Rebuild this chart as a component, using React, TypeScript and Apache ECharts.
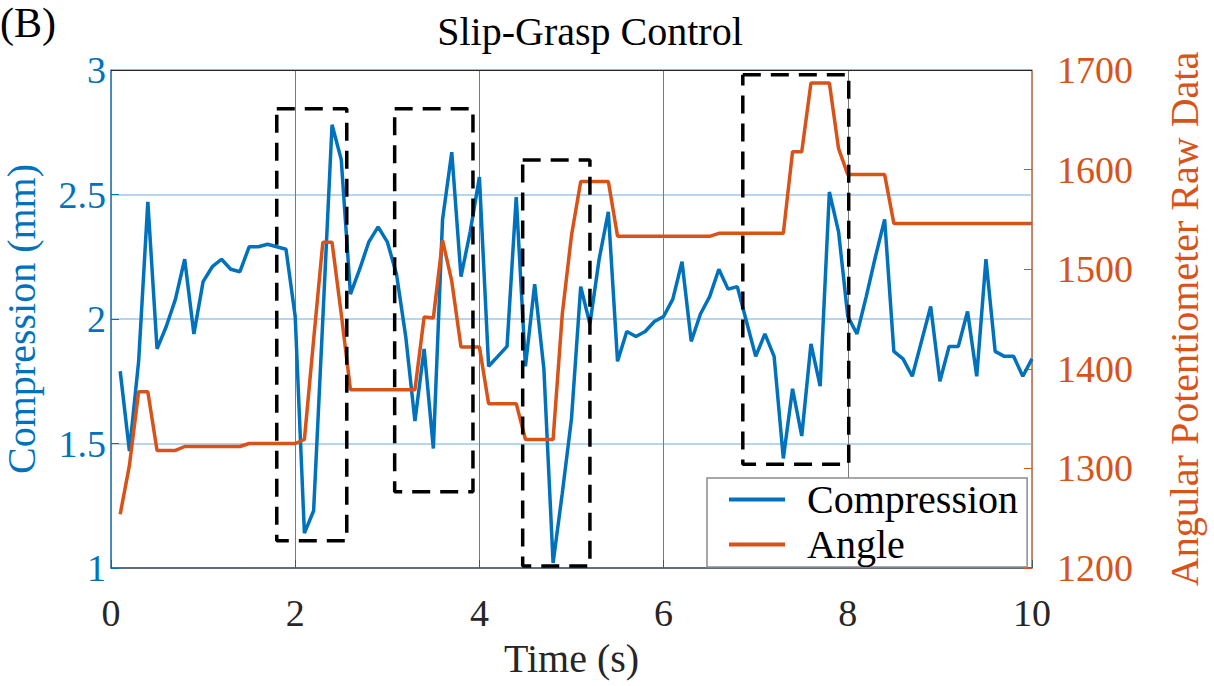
import { useEffect, useRef } from "react";
import * as echarts from "echarts";

// Sample times (s)
const times = [
  0.1, 0.2, 0.3, 0.4, 0.5, 0.6, 0.7, 0.8, 0.9, 1.0,
  1.1, 1.2, 1.3, 1.4, 1.5, 1.6, 1.7, 1.8, 1.9, 2.0,
  2.1, 2.2, 2.3, 2.4, 2.5, 2.6, 2.7, 2.8, 2.9, 3.0,
  3.1, 3.2, 3.3, 3.4, 3.5, 3.6, 3.7, 3.8, 3.9, 4.0,
  4.1, 4.2, 4.3, 4.4, 4.5, 4.6, 4.7, 4.8, 4.9, 5.0,
  5.1, 5.2, 5.3, 5.4, 5.5, 5.6, 5.7, 5.8, 5.9, 6.0,
  6.1, 6.2, 6.3, 6.4, 6.5, 6.6, 6.7, 6.8, 6.9, 7.0,
  7.1, 7.2, 7.3, 7.4, 7.5, 7.6, 7.7, 7.8, 7.9, 8.0,
  8.1, 8.2, 8.3, 8.4, 8.5, 8.6, 8.7, 8.8, 8.9, 9.0,
  9.1, 9.2, 9.3, 9.4, 9.5, 9.6, 9.7, 9.8, 9.9, 10.0,
];

// Sensor compression (mm)
const compression = [
  1.79, 1.47, 1.83, 2.47, 1.88, 1.97, 2.08, 2.24, 1.94, 2.15,
  2.21, 2.24, 2.2, 2.19, 2.29, 2.29, 2.3, 2.29, 2.28, 2.01,
  1.14, 1.23, 2.0, 2.78, 2.64, 2.1, 2.2, 2.31, 2.37, 2.31,
  2.18, 1.93, 1.59, 1.88, 1.48, 2.4, 2.67, 2.17, 2.35, 2.57,
  1.81, 1.85, 1.89, 2.49, 1.81, 2.14, 1.8, 1.02, 1.3, 1.6,
  2.13, 1.98, 2.24, 2.43, 1.83, 1.95, 1.93, 1.95, 1.99, 2.01,
  2.08, 2.23, 1.91, 2.02, 2.09, 2.2, 2.12, 2.13, 1.99, 1.85,
  1.94, 1.85, 1.44, 1.72, 1.53, 1.9, 1.73, 2.51, 2.35, 2.01,
  1.94, 2.09, 2.25, 2.4, 1.87, 1.84, 1.77, 1.91, 2.05, 1.75,
  1.89, 1.89, 2.03, 1.77, 2.24, 1.87, 1.85, 1.85, 1.77, 1.84,
];

// Angular potentiometer raw reading
const angle = [
  1254, 1303, 1377, 1377, 1318, 1318, 1318, 1322, 1322, 1322,
  1322, 1322, 1322, 1322, 1325, 1325, 1325, 1325, 1325, 1325,
  1329, 1429, 1527, 1527, 1455, 1379, 1379, 1379, 1379, 1379,
  1379, 1379, 1379, 1452, 1451, 1529, 1488, 1422, 1422, 1422,
  1365, 1365, 1365, 1365, 1329, 1329, 1329, 1329, 1455, 1534,
  1588, 1588, 1588, 1588, 1533, 1533, 1533, 1533, 1533, 1533,
  1533, 1533, 1533, 1533, 1533, 1536, 1536, 1536, 1536, 1536,
  1536, 1536, 1536, 1618, 1618, 1687, 1687, 1687, 1621, 1595,
  1595, 1595, 1595, 1595, 1546, 1546, 1546, 1546, 1546, 1546,
  1546, 1546, 1546, 1546, 1546, 1546, 1546, 1546, 1546, 1546,
];

// Slip events: [start (s), end (s), upper (mm), lower (mm)]
const slipWindows = [
  [1.8, 2.56, 2.844, 1.109],
  [3.08, 3.93, 2.844, 1.306],
  [4.47, 5.2, 2.639, 1.008],
  [6.86, 8.01, 2.981, 1.417],
];

const xRange = [0, 10];
const leftRange = [1, 3];
const rightRange = [1200, 1700];

const BLUE = "#0072BD";
const ORANGE = "#D95319";
// quoted family name so the multi-word font resolves in the SVG text
const SERIF = "'Liberation Serif'";

export default function App() {
  const ref = useRef<HTMLDivElement>(null);

  useEffect(() => {
    if (!ref.current) return;
    const chart = echarts.init(ref.current, undefined, { renderer: "svg" });

    const boxSeries = slipWindows.map(([t0, t1, top, bottom], i) => ({
      name: `slip-${i}`,
      type: "line",
      silent: true,
      showSymbol: false,
      symbol: "none",
      z: 5,
      lineStyle: { color: "#000", width: 3.5, type: [18, 10] },
      data: [[t0, top], [t1, top], [t1, bottom], [t0, bottom], [t0, top]],
    }));

    chart.setOption({
      animation: false,
      backgroundColor: "#fff",
      textStyle: { fontFamily: SERIF },
      title: {
        text: "Slip-Grasp Control",
        left: 585,
        top: 6,
        textAlign: "center",
        textStyle: { fontSize: 40, fontWeight: "normal", color: "#000", fontFamily: SERIF },
      },
      graphic: [
        { type: "text", left: 0, top: 2, style: { text: "(B)", fontSize: 42, fontFamily: SERIF, fill: "#000" } },
      ],
      legend: {
        data: ["Compression", "Angle"],
        orient: "vertical",
        left: 707,
        top: 478,
        backgroundColor: "#fff",
        borderColor: "#8c8c8c",
        borderWidth: 1.5,
        padding: [0, 9, 1, 22],
        itemWidth: 56,
        itemHeight: 4,
        itemGap: 2,
        icon: "rect",
        textStyle: { fontSize: 40, lineHeight: 43, fontFamily: SERIF, color: "#000", padding: [0, 0, 0, 17] },
      },
      grid: {
        left: 111,
        right: 182,
        top: 70,
        bottom: 118,
        show: true,
        borderColor: "#262626",
        borderWidth: 1,
        outerBoundsMode: "none",
        containLabel: false,
      },
      xAxis: {
        type: "value",
        min: xRange[0],
        max: xRange[1],
        interval: 2,
        name: "Time (s)",
        nameLocation: "middle",
        nameGap: 70,
        nameTextStyle: { fontSize: 40, fontFamily: SERIF, color: "#262626" },
        axisLine: { show: true, lineStyle: { color: "#4d5560", width: 1.5 } },
        axisTick: { show: true, inside: true, length: 8, lineStyle: { color: "#4d5560" } },
        axisLabel: { color: "#262626", margin: 26, fontSize: 38, fontFamily: SERIF },
        splitLine: { show: true, lineStyle: { color: "#7a7a7a", width: 1 } },
      },
      yAxis: [
        {
          type: "value",
          position: "left",
          min: leftRange[0],
          max: leftRange[1],
          interval: 0.5,
          name: "Compression (mm)",
          nameLocation: "middle",
          nameGap: 70,
          nameRotate: 90,
          nameTextStyle: { fontSize: 40, fontFamily: SERIF, color: BLUE },
          axisLine: { show: true, lineStyle: { color: "#3a8ccc", width: 1.5 } },
          axisTick: { show: true, inside: true, length: 8, lineStyle: { color: BLUE } },
          axisLabel: {
            fontFamily: SERIF,
            fontSize: 38,
            color: BLUE,
            margin: 5,
            padding: [12, 0, 0, 0],
            formatter: (v: number) => String(v),
          },
          splitLine: { show: true, lineStyle: { color: "#9cc8e8", width: 1.5 } },
        },
        {
          type: "value",
          position: "right",
          min: rightRange[0],
          max: rightRange[1],
          interval: 100,
          name: "Angular Potentiometer Raw Data",
          nameLocation: "middle",
          nameGap: 132,
          nameRotate: 90,
          nameTextStyle: { fontSize: 40, fontFamily: SERIF, color: ORANGE },
          axisLine: { show: true, lineStyle: { color: "#d98a66", width: 1.5 } },
          axisTick: { show: true, inside: true, length: 8, lineStyle: { color: ORANGE } },
          axisLabel: {
            fontFamily: SERIF,
            fontSize: 38,
            color: ORANGE,
            margin: 25,
            padding: [10, 0, 0, 0],
            formatter: (v: number) => String(v),
          },
          splitLine: { show: false },
        },
      ],
      series: [
        {
          name: "Compression",
          type: "line",
          showSymbol: false,
          symbol: "none",
          color: BLUE,
          z: 3,
          lineStyle: { color: BLUE, width: 3.5 },
          data: times.map((t, i) => [t, compression[i]]),
          // dark frame edge along the top of the axes box
          markLine: {
            silent: true,
            symbol: "none",
            label: { show: false },
            lineStyle: { color: "#262626", width: 1.2, type: "solid" },
            data: [{ yAxis: leftRange[1] }],
          },
        },
        {
          name: "Angle",
          type: "line",
          yAxisIndex: 1,
          showSymbol: false,
          symbol: "none",
          color: ORANGE,
          z: 4,
          lineStyle: { color: ORANGE, width: 3.5 },
          data: times.map((t, i) => [t, angle[i]]),
        },
        ...boxSeries,
      ],
    });

    return () => chart.dispose();
  }, []);

  return <div ref={ref} style={{ position: "absolute", left: 0, top: 0, width: 1214, height: 686 }} />;
}
